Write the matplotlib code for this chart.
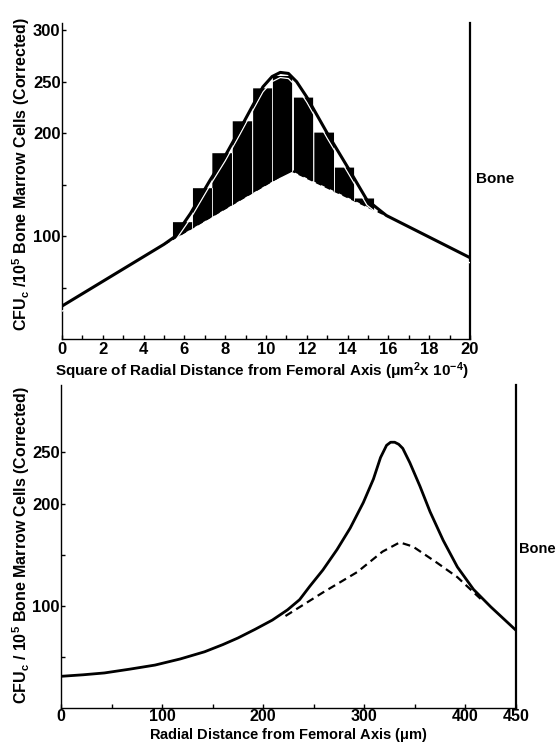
import numpy as np
import matplotlib
matplotlib.use("Agg")
import matplotlib.pyplot as plt

plt.rcParams['font.family'] = ['Liberation Sans', 'DejaVu Sans']
plt.rcParams['font.weight'] = 'bold'
plt.rcParams['axes.labelweight'] = 'bold'
plt.rcParams['mathtext.fontset'] = 'custom'
plt.rcParams['mathtext.rm'] = 'Liberation Sans:bold'
plt.rcParams['mathtext.it'] = 'Liberation Sans:bold'
plt.rcParams['mathtext.bf'] = 'Liberation Sans:bold'

# ---------------- top panel data (r^2 x 10^-4 um^2) ----------------
top_curve_x = [0, 5, 5.5, 6.3, 7.25, 8.0, 8.7, 9.3, 9.85, 10.3, 10.7, 11.1, 11.5,
               12.0, 13.0, 14.0, 14.95, 15.9, 16.6, 20]
top_curve_y = [32, 92, 99, 122, 154, 178, 203, 225, 245, 255, 259, 258, 250,
               235, 200, 167, 135, 120, 113, 79]
top_base_x = [5.0, 11.2, 16.0]
top_base_y = [92, 164, 119]
bar_centers = [5.9, 6.88, 7.83, 8.83, 9.83, 10.8, 11.83, 12.83, 13.83, 14.8]
bar_tops = [114, 147, 181, 212, 244, 256, 235, 201, 167, 137]
bar_width = 0.97
top_xticks = [0, 2, 4, 6, 8, 10, 12, 14, 16, 18, 20]
top_xminor = [1, 3, 5, 7, 9, 11, 13, 15, 17, 19]
top_yticks = [100, 200, 250, 300]
top_yminor = [50, 150]

# ---------------- bottom panel data (r, um) ----------------
bot_curve_x = [0, 22, 43, 68, 93, 118, 142, 160, 175, 192, 209, 224, 236, 246,
               259, 273, 286, 299, 309, 316, 322, 326, 330, 334, 338, 345, 355,
               365, 378, 392, 408, 425, 450]
bot_curve_y = [31, 32.5, 34.3, 38, 42, 48, 55, 62, 68.5, 77, 86, 96, 106, 119,
               135, 155, 176, 201, 224, 245, 257, 260, 260, 258, 254, 240, 217,
               192, 164, 138, 116, 99, 76]
bot_dash_x = [222, 259, 293, 318, 335, 348, 372, 392, 405, 418]
bot_dash_y = [90, 113, 133, 153, 162, 158, 142, 128, 116, 104]
bot_xticks = [0, 100, 200, 300, 400, 450]
bot_xminor = [50, 150, 250, 350]
bot_yticks = [100, 200, 250]
bot_yminor = [50, 150]

ylabel_top = r"CFU$_\mathregular{c}$ /10$^\mathregular{5}$ Bone Marrow Cells (Corrected)"
ylabel_bot = r"CFU$_\mathregular{c}$ / 10$^\mathregular{5}$ Bone Marrow Cells (Corrected)"
xlabel_top = r"Square of Radial Distance from Femoral Axis ($\mu$m$^\mathregular{2}$x 10$^\mathregular{-4}$)"
xlabel_bot = r"Radial Distance from Femoral Axis ($\mu$m)"

fig = plt.figure(figsize=(5.58, 7.43), dpi=100)
W, H = 558, 743

def style(ax, lsize):
    ax.spines['top'].set_visible(False)
    for s in ('left', 'bottom'):
        ax.spines[s].set_linewidth(1.0)
    ax.spines['right'].set_linewidth(1.6)
    ax.tick_params(axis='both', which='both', direction='in', width=1.0,
                   labelsize=lsize, pad=2)
    ax.tick_params(which='major', length=3)
    ax.tick_params(which='minor', length=3)
    ax.tick_params(axis='y', pad=1)
    ax.tick_params(right=False, which='both')

# ---- top panel ----
ax1 = fig.add_axes([62 / W, 1 - 339 / H, (470 - 62) / W, (339 - 23) / H])
ax1.set_xlim(0, 20)
ax1.set_ylim(0, 307)
style(ax1, 12)
ax1.set_xticks(top_xticks)
ax1.set_xticks(top_xminor, minor=True)
ax1.set_yticks(top_yticks)
ax1.set_yticks(top_yminor, minor=True)

ax1.plot(top_base_x, top_base_y, color='black', lw=1.4, ls=(0, (3, 2)), zorder=2)
for c, t in zip(bar_centers, bar_tops):
    xs = np.array([c - bar_width / 2, c + bar_width / 2])
    ax1.fill_between(xs, np.interp(xs, top_base_x, top_base_y), t,
                     color='black', lw=0, zorder=3)
    ax1.plot([xs[1], xs[1]], [np.interp(xs[1], top_base_x, top_base_y), t],
             color='white', lw=0.6, zorder=3.5)
ax1.plot(top_curve_x, np.array(top_curve_y) - 5, color='white', lw=0.9, zorder=4)
ax1.plot(top_curve_x, top_curve_y, color='black', lw=2.2, zorder=5,
         solid_capstyle='butt', solid_joinstyle='round')
ax1.set_xlabel(xlabel_top, fontsize=11)
ax1.xaxis.set_label_coords(0.49, (339 - 371) / 316)
ax1.xaxis.label.set_va('center')
ax1.set_ylabel(ylabel_top, fontsize=11.5)
ax1.yaxis.set_label_coords((21 - 62) / 408, 0.52)
ax1.yaxis.label.set_va('center')
ax1.text(476 / W, 1 - 179 / H, "Bone", transform=fig.transFigure,
         fontsize=11, va='center', ha='left')

# ---- bottom panel ----
ax2 = fig.add_axes([61 / W, 1 - 708 / H, (516 - 61) / W, (708 - 385) / H])
ax2.set_xlim(0, 450)
ax2.set_ylim(0, 316)
style(ax2, 11.5)
ax2.tick_params(axis='x', pad=1)
ax2.set_xticks(bot_xticks)
ax2.set_xticks(bot_xminor, minor=True)
ax2.set_yticks(bot_yticks)
ax2.set_yticks(bot_yminor, minor=True)
ax2.tick_params(axis='y', labelsize=12)
ax2.plot(bot_dash_x, bot_dash_y, color='black', lw=1.6, ls=(0, (3.5, 2.2)), zorder=2)
ax2.plot(bot_curve_x, bot_curve_y, color='black', lw=2.0, zorder=3,
         solid_joinstyle='round')
ax2.set_xlabel(xlabel_bot, fontsize=10.5)
ax2.xaxis.set_label_coords(0.50, (708 - 735) / 323)
ax2.xaxis.label.set_va('center')
ax2.set_ylabel(ylabel_bot, fontsize=11.5)
ax2.yaxis.set_label_coords((21 - 61) / 455, 0.505)
ax2.yaxis.label.set_va('center')
ax2.text(519 / W, 1 - 549 / H, "Bone", transform=fig.transFigure,
         fontsize=10.5, va='center', ha='left')

fig.savefig("out.png", dpi=100)
